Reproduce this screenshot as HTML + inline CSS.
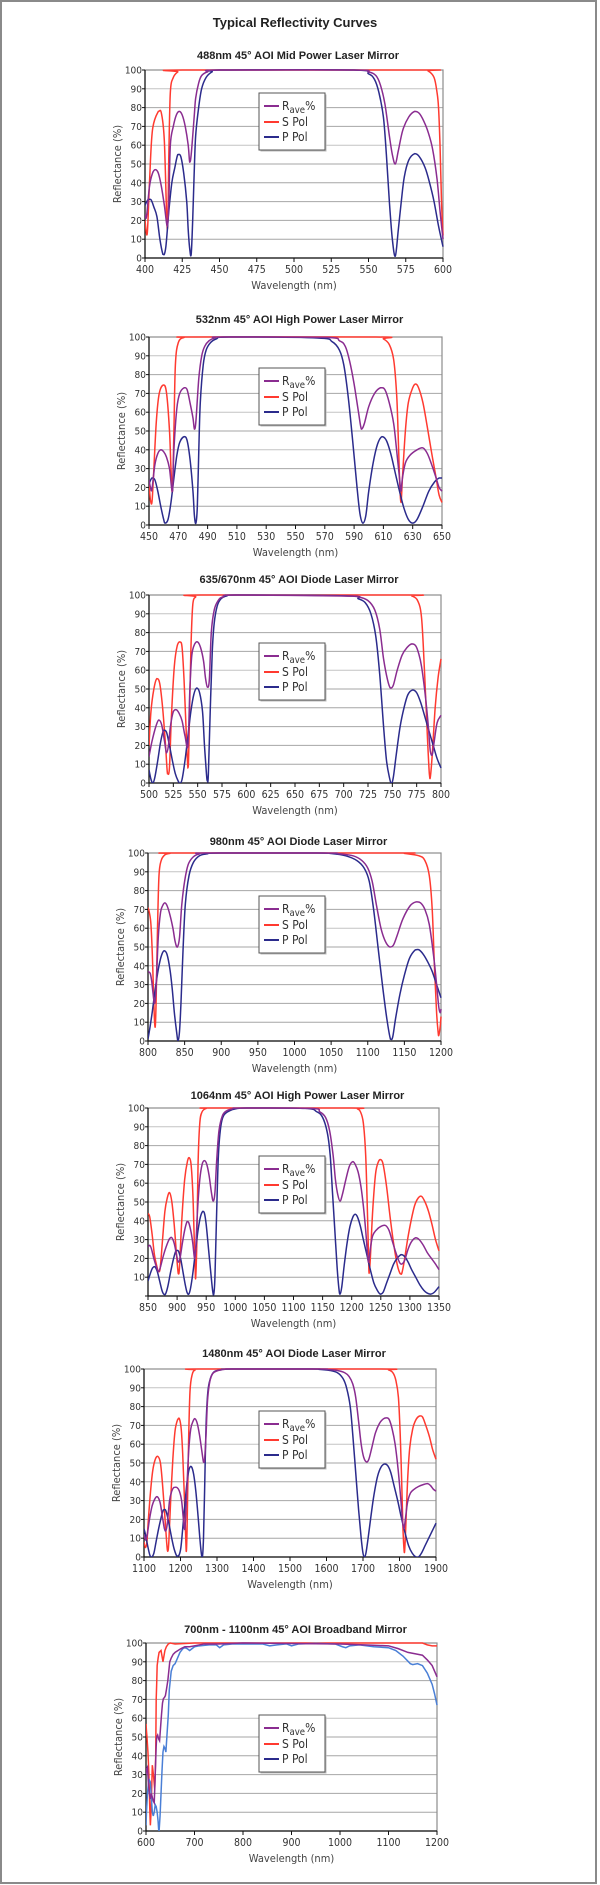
<!DOCTYPE html>
<html><head><meta charset="utf-8">
<style>
html,body{margin:0;padding:0;background:#fff;}
svg{display:block;}
</style></head>
<body>
<svg id="s" width="600" height="1885" viewBox="0 0 600 1885" xmlns="http://www.w3.org/2000/svg">
<rect x="1" y="1" width="595" height="1882" fill="#fff" stroke="#8a8a8a" stroke-width="2"/>
<text x="295" y="27" text-anchor="middle" font-family="Liberation Sans, sans-serif" font-weight="bold" font-size="13" fill="#222">Typical Reflectivity Curves</text>
</svg>
<script>
var NS="http://www.w3.org/2000/svg";
var svg=document.getElementById("s");
function el(t,a,p){var e=document.createElementNS(NS,t);for(var k in a)e.setAttribute(k,a[k]);(p||svg).appendChild(e);return e;}
function txt(s,a,p){var e=el("text",a,p);e.textContent=s;return e;}
var COND='"DejaVu Sans Condensed","Liberation Sans Narrow","Liberation Sans",sans-serif';
var RED="#ff3a30",PUR="#8a2c90",NAV="#2b2b8c",LB="#4a7fd6";
function P(s){var a=s.split(";").map(function(q){var t=q.trim().split(",");return [+t[0],+t[1]];});return a;}
var charts=[
{t:"488nm 45° AOI Mid Power Laser Mirror",ty:59,top:70,bot:258,l:145,r:443,x0:400,x1:600,st:25,ly:93,
S:P("400,20;401.5,13;403,40;405,68;409,78;411,77;413,62;415,15;416,55;417,88;419,96;422,99;425,100;585,100;590,99.5;594,96;596,88;597,80;598,60;599,30;600,12"),
R:P("400,23;401,22;403,38;405,45;407,47;409,45;411,38;413,28;415,17;416,30;417,60;419,70;421,76;423,78;425,76;427,70;429,60;430,51;431,55;433,75;434,85;436,93;438,97;442,99;450,100;540,100;550,99;555,97;558,92;561,82;564,65;566,55;568,50;570,57;573,68;577,75;581,78;584,77;587,73;590,67;593,58;596,42;598,25;600,10"),
Pp:P("400,28;402,31;404,31;406,27;408,22;410,10;412,2;413,2;414,6;415,15;416,25;418,40;420,48;422,55;424,54;426,45;428,30;429,15;430,5;431,2;432,20;433,45;434,65;436,80;438,90;441,96;445,99;450,100;540,100;550,98;554,95;557,88;560,75;562,55;564,30;566,10;568,1;570,15;572,30;574,43;577,52;581,55.5;584,54;588,48;591,40;594,30;597,17;600,6")},
{t:"532nm 45° AOI High Power Laser Mirror",ty:323,top:337,bot:525,l:149,r:442,x0:450,x1:650,st:20,ly:368,
S:P("450,22;451,13;452,12;453,25;455,55;457,70;460,74.5;462,70;464,50;465,30;466,18;467,50;468,85;470,97;474,99.8;480,100;605,100;610,99;614,96;617,88;619,70;620,50;621,25;622,12;623,25;625,50;627,65;630,73;632,75;634,73;637,65;640,52;643,38;646,25;648,16;650,12"),
R:P("450,24;451,20;452,19;454,32;456,38;458,40;460,39;462,36;464,30;466,18;467,40;469,62;471,70;474,73;476,72;478,65;480,57;481,51;482,55;484,78;486,90;488,95;491,98;495,99.5;500,100;570,99.8;580,98;584,95;587,87;590,75;593,60;595,51;597,54;600,63;604,70;608,73;611,72;614,65;617,54;619,40;621,25;622,18;623,25;625,33;628,37;633,40;637,41;640,38;643,32;646,25;648,20;650,18"),
Pp:P("450,22;452,25;454,24;456,18;458,10;460,3;461,1;463,3;465,12;467,25;469,37;471,44;474,47;476,45;478,35;480,18;481,5;482,1;483,10;484,40;485,65;487,85;489,93;492,97;496,99;505,100;565,99.5;575,97.5;580,93;583,85;586,68;589,45;592,20;594,6;596,1;598,5;600,18;603,33;606,43;609,47;612,45;615,38;618,28;621,18;624,9;627,3;630,1;633,3;637,10;641,18;645,23;648,25;650,25")},
{t:"635/670nm 45° AOI Diode Laser Mirror",ty:583,top:595,bot:783,l:149,r:441,x0:500,x1:800,st:25,ly:643,
S:P("500,20;502,38;505,50;508,55.5;511,53;514,40;517,20;519,5;521,8;523,35;526,62;529,73;532,75;534,72;536,55;538,30;540,8;541,20;543,70;545,95;548,99;553,100;765,100;770,99.5;776,97;780,88;783,60;786,25;788,5;789,3;791,15;794,40;797,56;800,66"),
R:P("500,14;503,22;507,30;510,33.5;513,31;516,22;518,16;520,20;522,30;525,38;528,39;531,37;534,33;537,25;540,20;542,50;544,68;547,74;550,75;553,72;556,65;558,56;560,51;562,55;564,80;567,92;571,97;576,99;590,100;700,99.5;715,99;725,97;732,92;737,82;741,66;745,55;748,50.5;751,52;755,60;760,68;765,72;770,74;774,73;777,69;780,62;784,46;787,30;789,17;791,15;793,22;796,32;800,36"),
Pp:P("500,7;502,2;504,0;506,3;509,12;512,22;515,28;518,27;521,20;524,12;527,5;530,1;532,0;534,2;537,12;540,25;543,38;546,47;549,50.5;552,48;555,38;557,20;559,5;560,1;561,5;563,40;565,70;567,85;570,94;574,98;580,99.5;590,100;705,99.5;715,98;722,96;728,90;733,78;737,58;741,30;744,12;747,3;749,0;751,3;754,15;758,30;762,40;766,47;771,49.5;775,48;779,43;783,36;788,27;792,20;796,13;800,8")},
{t:"980nm 45° AOI Diode Laser Mirror",ty:845,top:853,bot:1041,l:148,r:441,x0:800,x1:1200,st:50,ly:896,
S:P("800,71;802,68;804,62;806,45;808,20;809,10;810,8;811,20;813,60;815,88;818,96;823,99;830,99.8;840,100;1140,100;1150,99.8;1170,98.5;1178,96;1184,88;1188,70;1191,40;1194,15;1196,5;1197,3;1199,8;1200,13"),
R:P("800,37;803,36;805,32;807,25;809,20;811,28;814,55;817,68;820,72;823,73.5;826,72;830,67;834,60;837,53;840,50;843,55;846,72;850,85;855,94;862,98;870,99.5;880,100;1040,100;1060,99.6;1080,98.5;1092,96;1100,92;1106,85;1112,72;1118,60;1124,53;1130,50;1135,51;1140,56;1148,65;1158,72;1166,74;1172,73.5;1178,70;1184,62;1190,45;1194,30;1197,18;1199,15;1200,17"),
Pp:P("800,1;803,8;806,16;810,28;814,38;818,45;822,48;826,46;830,38;833,28;836,15;839,5;841,0;843,5;845,20;848,50;851,73;856,88;862,95;870,98.5;880,99.5;900,100;1030,100;1050,99.7;1070,98.5;1085,96;1095,92;1102,85;1108,70;1114,50;1120,30;1126,12;1131,1;1134,2;1138,12;1144,25;1150,35;1157,44;1165,48.5;1170,48.5;1176,46;1182,42;1188,37;1194,30;1200,23")},
{t:"1064nm 45° AOI High Power Laser Mirror",ty:1099,top:1108,bot:1296,l:148,r:439,x0:850,x1:1350,st:50,ly:1156,no0:true,
S:P("850,44;853,42;857,33;861,22;865,16;868,13;871,15;875,30;879,45;883,52;887,55;891,50;895,38;899,22;902,12;904,15;908,40;913,62;918,72;921,73.5;924,70;927,55;929,35;931,15;932,10;934,30;936,70;939,92;943,98;950,99.8;960,100;1200,100;1210,99.5;1215,98;1220,92;1224,75;1227,45;1229,20;1230,12;1232,20;1236,45;1241,65;1246,71.5;1250,72.5;1254,70;1260,58;1266,42;1272,28;1278,17;1283,12;1286,12;1290,18;1296,30;1302,40;1308,48;1314,52;1320,53;1326,50;1332,45;1338,38;1344,30;1350,24"),
R:P("850,26;853,27;856,25;860,20;865,15;868,13;871,15;876,21;881,26;887,30.5;891,31;895,28;899,22;902,18;905,20;909,28;913,35;917,39.5;920,39;924,34;927,28;930,20;932,25;935,45;939,62;943,70;947,72;951,70;955,64;959,55;962,50.5;965,55;968,72;972,88;978,96;985,98.5;995,99.5;1010,100;1130,99.8;1145,98;1155,95;1162,88;1168,75;1172,62;1176,54;1180,50.5;1184,54;1190,62;1196,69;1202,71.5;1206,70;1211,66;1216,58;1220,48;1224,35;1227,23;1229,18;1232,25;1236,32;1242,35;1250,37;1258,37.5;1264,35;1270,29;1276,23;1282,18;1286,17;1291,19;1297,25;1303,29;1310,31;1316,30;1323,27;1330,23;1337,20;1344,17;1350,14"),
Pp:P("850,8;854,12;858,15;862,15.5;866,13;870,8;874,3;877,1;880,1;884,5;889,13;894,20;898,24;902,24;906,20;910,13;914,6;917,2;920,1;923,4;927,12;932,25;936,35;940,42;944,45;947,44;950,38;954,25;958,12;961,3;963,1;965,10;968,45;971,75;975,90;980,96;990,98.5;1000,99.5;1020,100;1120,99.8;1140,98;1150,95;1158,87;1163,75;1167,55;1171,35;1175,15;1178,4;1180,1;1183,5;1187,16;1192,28;1197,37;1202,42;1206,43.5;1210,42;1215,37;1220,30;1226,22;1232,14;1238,7;1244,3;1249,1;1254,2;1260,7;1266,12;1272,17;1278,20;1285,22;1291,21;1297,18;1303,14;1310,10;1317,6;1324,3;1330,1.5;1336,1;1342,2;1350,5")},
{t:"1480nm 45° AOI Diode Laser Mirror",ty:1357,top:1369,bot:1557,l:144,r:436,x0:1100,x1:1900,st:100,ly:1411,
S:P("1100,8;1104,5;1108,8;1112,20;1118,35;1124,46;1131,52;1138,53.5;1145,50;1151,38;1157,22;1162,8;1165,3;1168,8;1173,30;1179,52;1185,67;1192,73;1197,73.5;1202,68;1206,55;1210,35;1214,12;1216,3;1218,15;1222,60;1226,88;1232,97;1240,99.5;1255,100;1750,100;1770,99.5;1782,98;1790,94;1797,85;1802,65;1806,40;1809,18;1812,5;1814,3;1817,15;1822,40;1828,58;1836,68;1845,73;1855,75;1863,74.5;1872,70;1882,64;1891,57;1900,52"),
R:P("1100,12;1104,9;1109,12;1115,20;1122,27;1130,31;1137,32;1144,29;1150,22;1156,15;1160,14;1164,18;1170,30;1176,35;1182,37;1190,37;1197,35;1203,30;1208,20;1212,15;1216,30;1222,55;1228,68;1235,72.5;1240,73.5;1246,71;1252,65;1258,57;1263,50.5;1266,52;1270,65;1274,83;1280,93;1288,97.5;1300,99;1320,99.8;1350,100;1580,100;1600,99.8;1630,99.2;1650,98;1662,96;1672,92;1680,85;1688,72;1695,60;1702,53;1710,50.5;1716,52;1724,58;1734,66;1745,71;1756,73.5;1765,74;1772,73;1780,68;1788,60;1796,47;1803,32;1808,20;1812,15;1816,20;1822,29;1830,34;1840,36;1852,37.5;1865,38.5;1877,39;1885,38;1893,36;1900,35"),
Pp:P("1100,15;1104,12;1110,6;1116,1;1121,0;1127,2;1133,8;1140,15;1147,21;1153,25;1159,25;1165,21;1171,15;1177,9;1183,4;1190,0.5;1196,1;1201,5;1206,15;1212,28;1218,40;1224,47;1230,48;1236,44;1242,35;1248,22;1253,10;1257,2;1260,0;1263,10;1266,35;1270,70;1275,88;1282,95;1292,98.5;1310,99.5;1340,100;1560,100;1580,99.8;1610,99.2;1630,98;1645,95;1655,90;1665,80;1672,65;1680,45;1688,25;1695,10;1700,2;1704,0;1708,2;1714,10;1722,22;1730,33;1740,43;1750,48;1760,49.5;1768,48.5;1776,45;1785,38;1795,30;1805,21;1815,13;1825,6;1835,2;1845,0;1852,0;1860,2;1870,6;1880,10;1890,14;1900,18")},
{t:"700nm - 1100nm 45° AOI Broadband Mirror",ty:1633,top:1643,bot:1831,l:146,r:437,x0:600,x1:1200,st:100,ly:1715,lin:true,pc:LB,
S:P("600,57;601,53;602,50;604,42;606,30;608,10;609,3;610,8;612,25;613,35;614,33;616,28;618,22;620,40;621,70;622,78;623,88;625,92;627,95;629,95.5;631,96;633,93;635,90;637,93;639,96;642,98;646,99.5;650,100;660,99.5;700,100;1170,100;1180,99;1190,98.5;1200,98.5"),
R:P("600,30;601,33;603,34;605,25;607,20;609,17;611,20;613,18;615,16;617,15;619,30;621,45;622,50;624,51;626,49;628,48;630,55;632,62;634,68;636,70.5;638,71;640,72;642,75;645,80;647,85;649,90;652,92;656,94;660,95;666,96;672,97;680,98;690,98;700,98.5;720,99.5;750,99.5;800,100;1000,99.5;1050,99;1100,98.5;1120,97;1140,95;1160,94;1170,93.5;1180,91;1190,88;1200,82"),
Pp:P("600,3;601,10;602,15;603,20;605,25;607,27;609,26;611,18;613,10;615,8;617,10;619,14;621,13;623,10;625,5;626,1;627,0;629,8;631,20;633,32;635,42;637,45;639,44;641,42;643,50;646,62;648,75;650,80;652,85;656,88;660,89;665,92;670,95;676,97;680,97.5;685,97;690,96;695,97;700,98;710,98.5;730,99;745,99;752,97.5;760,99;780,99.5;800,99.5;840,99.5;855,98.5;870,99;890,99.5;900,98.5;915,99.5;950,99.8;990,99.5;1005,98;1012,97.5;1020,98.5;1040,99;1070,98;1100,97.5;1115,96;1130,93;1145,89;1150,88.5;1160,89;1170,88;1180,84;1190,78;1195,73;1200,67")}
];
function path(pts,X,Y,lin){
  var p=pts.map(function(q){return [X(q[0]),Y(q[1])];});
  var d="M"+p[0][0].toFixed(2)+","+p[0][1].toFixed(2);
  for(var i=0;i<p.length-1;i++){
    if(lin){d+="L"+p[i+1][0].toFixed(2)+","+p[i+1][1].toFixed(2);continue;}
    var p0=p[i-1]||p[i],p1=p[i],p2=p[i+1],p3=p[i+2]||p2;
    var c1x=p1[0]+(p2[0]-p0[0])/6,c1y=p1[1]+(p2[1]-p0[1])/6;
    var c2x=p2[0]-(p3[0]-p1[0])/6,c2y=p2[1]-(p3[1]-p1[1])/6;
    var lo=Math.min(p1[1],p2[1]),hi=Math.max(p1[1],p2[1]);
    c1y=Math.max(Math.min(c1y,Math.max(hi,Y(100))),Math.min(lo,Y(0)));
    d+="C"+c1x.toFixed(2)+","+c1y.toFixed(2)+" "+c2x.toFixed(2)+","+c2y.toFixed(2)+" "+p2[0].toFixed(2)+","+p2[1].toFixed(2);
  }
  return d;
}
charts.forEach(function(c,ci){
  var w=c.r-c.l,h=c.bot-c.top;
  var X=function(v){return c.l+(v-c.x0)/(c.x1-c.x0)*w;};
  var Y=function(v){return c.bot-v/100*h;};
  var cx=(c.l+c.r)/2;
  txt(c.t,{x:cx+4,y:c.ty,"text-anchor":"middle","font-family":"Liberation Sans, sans-serif","font-weight":"bold","font-size":"11","fill":"#222"});
  // grid
  for(var g=1;g<=9;g++){el("line",{x1:c.l,x2:c.r,y1:Y(g*10),y2:Y(g*10),stroke:(g==9||g==6||g==4&&ci==1)?"#c4c4c4":"#a6a6a6","stroke-width":"1"});}
  el("rect",{x:c.l,y:c.top,width:w,height:h,fill:"none",stroke:"#8c8c8c","stroke-width":"1.2"});
  el("line",{x1:c.l,x2:c.l,y1:c.top,y2:c.bot,stroke:"#111","stroke-width":"1.2"});
  el("line",{x1:c.l,x2:c.r,y1:c.bot,y2:c.bot,stroke:"#111","stroke-width":"1.2"});
  for(var v=0;v<=100;v+=10){
    el("line",{x1:c.l-3,x2:c.l,y1:Y(v),y2:Y(v),stroke:"#111","stroke-width":"1"});
    if(v==0&&c.no0)continue;
    txt(String(v),{x:c.l-3,y:Y(v)+3.5,"text-anchor":"end","font-family":COND,"font-size":"10","fill":"#333"});
  }
  for(var xv=c.x0;xv<=c.x1;xv+=c.st){
    el("line",{x1:X(xv),x2:X(xv),y1:c.bot,y2:c.bot+4,stroke:"#111","stroke-width":"1"});
    txt(String(xv),{x:X(xv),y:c.bot+15,"text-anchor":"middle","font-family":COND,"font-size":"10.5","fill":"#333"});
  }
  txt("Wavelength (nm)",{x:cx,y:c.bot+31,"text-anchor":"middle","font-family":COND,"font-size":"11","fill":"#444"});
  var ym=(c.top+c.bot)/2;
  txt("Reflectance (%)",{x:0,y:0,transform:"translate("+(c.l-24)+","+ym+") rotate(-90)","text-anchor":"middle","font-family":COND,"font-size":"11","fill":"#444"});
  var cid="clip"+ci;
  var cp=el("clipPath",{id:cid});el("rect",{x:c.l,y:c.top-2,width:w+1,height:h+2},cp);
  var gr=el("g",{"clip-path":"url(#"+cid+")"});
  el("path",{d:path(c.S,X,Y,c.lin),fill:"none",stroke:RED,"stroke-width":"1.5"},gr);
  el("path",{d:path(c.Pp,X,Y,c.lin),fill:"none",stroke:c.pc||NAV,"stroke-width":"1.5"},gr);
  el("path",{d:path(c.R,X,Y,c.lin),fill:"none",stroke:PUR,"stroke-width":"1.5"},gr);
  // legend
  var lx=259,ly=c.ly;
  el("rect",{x:lx+1.5,y:ly+1.5,width:66,height:57,fill:"#bbb"});
  el("rect",{x:lx,y:ly,width:66,height:57,fill:"#fff",stroke:"#555","stroke-width":"1"});
  var rows=[[PUR,13],[RED,29],[NAV,44]];
  rows.forEach(function(r){el("line",{x1:lx+5,x2:lx+20,y1:ly+r[1],y2:ly+r[1],stroke:r[0],"stroke-width":"2"});});
  var t=el("text",{x:lx+23,y:ly+r2(13),"font-family":COND,"font-size":"12","fill":"#333"});
  function r2(v){return v+4;}
  var a=document.createElementNS(NS,"tspan");a.textContent="R";t.appendChild(a);
  var b=document.createElementNS(NS,"tspan");b.setAttribute("dy","3");b.setAttribute("font-size","9.5");b.textContent="ave";t.appendChild(b);
  var d=document.createElementNS(NS,"tspan");d.setAttribute("dy","-3");d.textContent="%";t.appendChild(d);
  txt("S Pol",{x:lx+23,y:ly+33,"font-family":COND,"font-size":"12","fill":"#333"});
  txt("P Pol",{x:lx+23,y:ly+48,"font-family":COND,"font-size":"12","fill":"#333"});
});
</script>
</body></html>
